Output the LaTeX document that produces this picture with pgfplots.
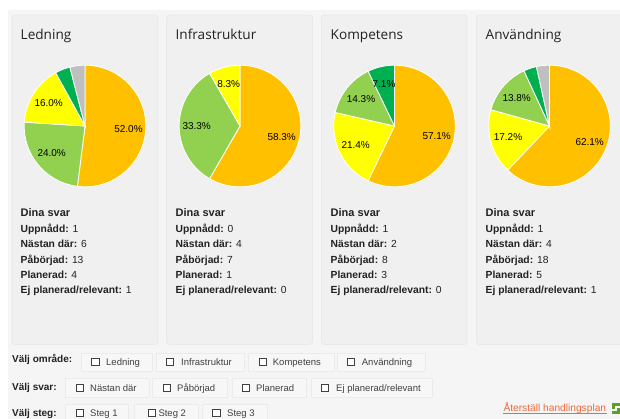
\documentclass[border=0pt]{standalone}
\usepackage{pgfplots}
\pgfplotsset{compat=1.18}
\usepackage{fontspec}
\setmainfont{Liberation Sans}
\newfontfamily\titlefont{Open Sans}
\definecolor{cOrange}{HTML}{FFC000}
\definecolor{cGreen}{HTML}{92D050}
\definecolor{cYellow}{HTML}{FFFF00}
\definecolor{cDark}{HTML}{00B050}
\definecolor{cGray}{HTML}{BFBFBF}
\definecolor{pagebg}{HTML}{F5F5F5}
\definecolor{panelbg}{HTML}{F0F0F0}
\definecolor{panelline}{HTML}{E9E9E9}
\definecolor{btnbg}{HTML}{F7F7F7}
\definecolor{btnline}{HTML}{EBEBEB}
\definecolor{txt}{HTML}{222222}
\definecolor{link}{HTML}{F0693A}
\definecolor{iconc}{HTML}{5AA02C}
% one wedge of a pie: centre x, centre y, value, total, colour
\newcommand{\wedgeangle}{0}
\newcommand{\pieslice}[5]{%
  \pgfmathsetmacro\wstart{\wedgeangle}%
  \pgfmathsetmacro\wend{\wstart+360/#4*#3}%
  \pgfmathtruncatemacro\wn{max(2,ceil((\wend-\wstart)/3))}%
  \gdef\wpts{(#1,#2)}%
  \foreach \i in {0,...,\wn}{%
    \pgfmathsetmacro\wa{\wstart+(\wend-\wstart)*(\i/\wn)}%
    \pgfmathsetmacro\wx{#1+60.8*sin(\wa)}%
    \pgfmathsetmacro\wy{#2-60.8*cos(\wa)}%
    \xdef\wpts{\wpts(\wx,\wy)}%
  }%
  \edef\wtmp{\noexpand\addplot[fill=#5,draw=white,line width=0.8pt] coordinates {\wpts} -- cycle;}%
  \wtmp
  \xdef\wedgeangle{\wend}%
}
\newcommand{\pct}[3]{\node[font=\fontsize{10}{12}\selectfont,text=black,inner sep=0pt] at (axis cs:#1,#2) {#3};}
\newcommand{\panel}[7]{% x, title, five counts
  \node[anchor=base west,inner sep=0pt,font=\titlefont\fontsize{13.6}{16}\selectfont,text=txt] at (axis cs:#1,39.5) {#2};
  \node[anchor=base west,inner sep=0pt,font=\bfseries\fontsize{11}{13}\selectfont,text=txt] at (axis cs:#1,217) {Dina svar};
  \node[anchor=base west,inner sep=0pt,font=\fontsize{10.3}{12}\selectfont,text=txt] at (axis cs:#1,233) {\textbf{Uppnådd:} #3};
  \node[anchor=base west,inner sep=0pt,font=\fontsize{10.3}{12}\selectfont,text=txt] at (axis cs:#1,248) {\textbf{Nästan där:} #4};
  \node[anchor=base west,inner sep=0pt,font=\fontsize{10.3}{12}\selectfont,text=txt] at (axis cs:#1,263.5) {\textbf{Påbörjad:} #5};
  \node[anchor=base west,inner sep=0pt,font=\fontsize{10.3}{12}\selectfont,text=txt] at (axis cs:#1,278.5) {\textbf{Planerad:} #6};
  \node[anchor=base west,inner sep=0pt,font=\fontsize{10.3}{12}\selectfont,text=txt] at (axis cs:#1,293.5) {\textbf{Ej planerad/relevant:} #7};
}
\newcommand{\btn}[9]{% left right top bottom boxx textx label boxmid baseline
  \fill[btnbg,draw=btnline,line width=0.7pt] (axis cs:#1,#3) rectangle (axis cs:#2,#4);
  \draw[fill=white,draw=black!75,line width=0.7pt] (axis cs:#5,#8-3.5) rectangle (axis cs:#5+7.5,#8+3.5);
  \node[anchor=base west,inner sep=0pt,font=\fontsize{9.5}{12}\selectfont,text=black!75] at (axis cs:#6,#9) {#7};
}
\begin{document}
\begin{tikzpicture}
\path[use as bounding box] (0,0) rectangle (620pt,419pt);
\begin{axis}[at={(0,0)},anchor=south west,scale only axis,width=620pt,height=419pt,
  xmin=0,xmax=620,ymin=0,ymax=419,y dir=reverse,axis lines=none,clip=false]
% page
\fill[white] (axis cs:0,0) rectangle (axis cs:620,419);
\fill[pagebg] (axis cs:8,10) rectangle (axis cs:620,419);
% panels
\fill[panelbg,draw=panelline,line width=0.7pt,rounded corners=3pt] (axis cs:12,15) rectangle (axis cs:158,344.5);
\fill[panelbg,draw=panelline,line width=0.7pt,rounded corners=3pt] (axis cs:166.5,15) rectangle (axis cs:312.5,344.5);
\fill[panelbg,draw=panelline,line width=0.7pt,rounded corners=3pt] (axis cs:321.5,15) rectangle (axis cs:467,344.5);
\fill[panelbg,draw=panelline,line width=0.7pt] (axis cs:620,15) -- (axis cs:479.5,15) to[out=180,in=90] (axis cs:476.5,18) -- (axis cs:476.5,341.5) to[out=-90,in=180] (axis cs:479.5,344.5) -- (axis cs:620,344.5);
% pies
\gdef\wedgeangle{0}
\pieslice{85}{126}{13}{25}{cOrange}
\pieslice{85}{126}{6}{25}{cGreen}
\pieslice{85}{126}{4}{25}{cYellow}
\pieslice{85}{126}{1}{25}{cDark}
\pieslice{85}{126}{1}{25}{cGray}
\gdef\wedgeangle{0}
\pieslice{240}{126}{7}{12}{cOrange}
\pieslice{240}{126}{4}{12}{cGreen}
\pieslice{240}{126}{1}{12}{cYellow}
\gdef\wedgeangle{0}
\pieslice{394.5}{126}{8}{14}{cOrange}
\pieslice{394.5}{126}{3}{14}{cYellow}
\pieslice{394.5}{126}{2}{14}{cGreen}
\pieslice{394.5}{126}{1}{14}{cDark}
\gdef\wedgeangle{0}
\pieslice{549.5}{126}{18}{29}{cOrange}
\pieslice{549.5}{126}{5}{29}{cYellow}
\pieslice{549.5}{126}{4}{29}{cGreen}
\pieslice{549.5}{126}{1}{29}{cDark}
\pieslice{549.5}{126}{1}{29}{cGray}
% percent labels
\pct{128.5}{128.7}{52.0\%}
\pct{51.7}{153.3}{24.0\%}
\pct{48.7}{102.7}{16.0\%}
\pct{281.7}{137}{58.3\%}
\pct{196.7}{126.3}{33.3\%}
\pct{228.7}{84.3}{8.3\%}
\pct{436.7}{135.7}{57.1\%}
\pct{355.7}{144.7}{21.4\%}
\pct{361}{99}{14.3\%}
\pct{384}{83.7}{7.1\%}
\pct{589.7}{142}{62.1\%}
\pct{508}{137.3}{17.2\%}
\pct{516.7}{98}{13.8\%}
% panel texts
\panel{20.5}{Ledning}{1}{6}{13}{4}{1}
\panel{175.5}{Infrastruktur}{0}{4}{7}{1}{0}
\panel{330.5}{Kompetens}{1}{2}{8}{3}{0}
\panel{485.5}{Användning}{1}{4}{18}{5}{1}
% filter rows
\node[anchor=base west,inner sep=0pt,font=\bfseries\fontsize{10}{12}\selectfont,text=txt] at (axis cs:12,362.7) {Välj område:};
\node[anchor=base west,inner sep=0pt,font=\bfseries\fontsize{10}{12}\selectfont,text=txt] at (axis cs:12,390) {Välj svar:};
\node[anchor=base west,inner sep=0pt,font=\bfseries\fontsize{10}{12}\selectfont,text=txt] at (axis cs:12,416) {Välj steg:};
\btn{81.5}{152}{353}{371}{91.7}{106}{Ledning}{362}{365}
\btn{156.5}{244}{353}{371}{166}{181}{Infrastruktur}{362}{365}
\btn{248}{334}{353}{371}{259}{272.7}{Kompetens}{362}{365}
\btn{337.5}{425}{353}{371}{347}{361.7}{Användning}{362}{365}
\btn{65}{149}{378}{397}{76.3}{90}{Nästan där}{388}{391.7}
\btn{152.7}{227.5}{378}{397}{163}{177}{Påbörjad}{388}{391.7}
\btn{232}{306}{378}{397}{242}{256}{Planerad}{388}{391.7}
\btn{311}{432.7}{378}{397}{321}{336}{Ej planerad/relevant}{388}{391.7}
\btn{65}{128}{404}{419}{76.3}{90}{Steg 1}{413}{416.7}
\btn{134}{198}{404}{419}{148}{158.3}{Steg 2}{413}{416.7}
\btn{202}{267}{404}{419}{212.7}{227}{Steg 3}{413}{416.7}
% link
\node[anchor=base west,inner sep=0pt,font=\fontsize{10.2}{12}\selectfont,text=link] at (axis cs:503.3,411.7) {Återställ handlingsplan};
\draw[link,line width=0.7pt] (axis cs:503.3,413) -- (axis cs:606.7,413);
% reset icon
\fill[iconc] (axis cs:612,403) rectangle (axis cs:620,406);
\fill[iconc] (axis cs:612,403) rectangle (axis cs:615,409);
\fill[iconc] (axis cs:612,411) rectangle (axis cs:620,414);
\fill[iconc] (axis cs:617,408) rectangle (axis cs:620,414);
\end{axis}
\end{tikzpicture}
\end{document}
